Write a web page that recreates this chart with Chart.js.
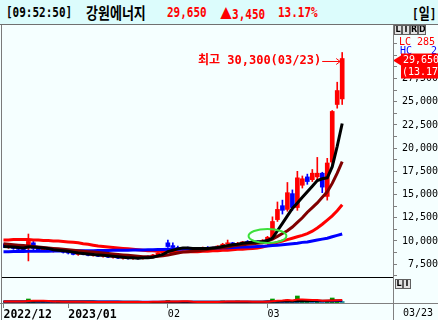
<!DOCTYPE html>
<html lang="ko"><head><meta charset="utf-8">
<script src="https://cdn.jsdelivr.net/npm/chart.js@4.4.1/dist/chart.umd.min.js"></script>
<style>
html,body{margin:0;padding:0}
body{width:438px;height:320px;overflow:hidden;background:#f5ffff;position:relative;font-family:"DejaVu Sans Mono",monospace}
#hdr{position:absolute;left:0;top:0;width:438px;height:25px;background:#dcfcfc;border-bottom:1px solid #707070;box-sizing:border-box}
.h{position:absolute;top:6px;font:bold 11px/14px "DejaVu Sans Mono","Noto Sans CJK KR",monospace;white-space:nowrap;color:#000;transform:scaleY(1.22);transform-origin:50% 50%}
.red{color:#ff0000}
.kr{font-family:"Noto Sans CJK KR",sans-serif;font-size:13px}
canvas{position:absolute;left:0}
.ln{position:absolute}
.btn{position:absolute;width:6px;height:8px;border:1px solid #606060;background:#e2e2e2;font:bold 8px/8px "DejaVu Sans",sans-serif;text-align:center;color:#000;overflow:hidden}
#lastd{position:absolute;left:403px;top:307px;font:10px/12px "DejaVu Sans Mono",monospace;color:#000}
</style></head>
<body>
<div id="hdr">
 <span class="h" id="tTime" style="left:6px"></span>
 <span class="h kr" id="tName" style="left:86px"></span>
 <span class="h red" id="tPrice" style="left:167px"></span>
 <span class="h red" id="tChg" style="left:220px"></span>
 <span class="h red" id="tPct" style="left:278px"></span>
 <span class="h" id="tPer" style="left:412px"></span>
</div>
<canvas id="pc" width="438" height="252" style="top:25px"></canvas>
<canvas id="vc" width="438" height="42" style="top:278px"></canvas>
<div class="ln" style="left:1px;top:25px;width:1px;height:295px;background:#7a7a7a"></div>
<div class="ln" style="left:2px;top:277px;width:391px;height:1px;background:#000"></div>
<div class="ln" style="left:393px;top:25px;width:1px;height:295px;background:#808080"></div>
<div class="ln" style="left:0px;top:303px;width:438px;height:1px;background:#808080"></div>
<div class="btn" style="left:394px;top:25px">L</div>
<div class="btn" style="left:402px;top:25px">I</div>
<div class="btn" style="left:410px;top:25px">R</div>
<div class="btn" style="left:418px;top:25px">D</div>
<div class="btn" style="left:395px;top:279px">L</div>
<div class="btn" style="left:403px;top:279px">I</div>
<div id="lastd"></div>
<script>
// ---------------- data ----------------
const stockName = '강원에너지';
const quoteTime = '09:52:50';
const periodLabel = '일';
const dates = ['12/13','12/14','12/15','12/16','12/19','12/20','12/21','12/22','12/23','12/26','12/27','12/28','12/29',
 '01/02','01/03','01/04','01/05','01/06','01/09','01/10','01/11','01/12','01/13','01/16','01/17','01/18','01/19','01/20','01/25','01/26','01/27','01/30','01/31',
 '02/01','02/02','02/03','02/06','02/07','02/08','02/09','02/10','02/13','02/14','02/15','02/16','02/17','02/20','02/21','02/22','02/23','02/24','02/27','02/28',
 '03/02','03/03','03/06','03/07','03/08','03/09','03/10','03/13','03/14','03/15','03/16','03/17','03/20','03/21','03/22','03/23'];
const monthLabels = ['2022/12','2023/01','02','03'];
const openP = [9500,9350,9450,9200,9100,9250,9800,9200,9000,9100,8950,9000,8900,
 8800,8700,8550,8650,8550,8450,8500,8350,8400,8250,8300,8150,8250,8100,8200,8100,8300,8250,8500,8700,
 9800,9500,9300,9150,9250,9100,9200,9150,9300,9200,9300,9450,9650,9800,9600,9750,9900,9850,9950,9900,
 10050,10400,12300,13800,13400,15100,13600,16000,16900,16600,16900,17300,14800,18500,24700,25300];
const highP = [9700,9600,9500,9350,9250,10750,9950,9300,9150,9200,9100,9100,9000,
 8950,8800,8700,8750,8650,8600,8550,8500,8450,8400,8350,8300,8300,8250,8300,8350,8400,8550,8750,9000,
 10100,9800,9450,9300,9350,9250,9300,9350,9400,9350,9500,9750,10100,9850,9850,9950,10050,10000,10050,10150,
 10500,12600,14200,14400,16300,15500,17500,17000,17200,17700,19000,17400,18900,24050,27100,30300];
const lowP = [9300,9200,9100,9000,8950,7850,9050,8950,8900,8900,8800,8850,8700,
 8600,8500,8450,8500,8400,8350,8300,8250,8200,8150,8100,8050,8050,8000,8050,8050,8150,8200,8400,8600,
 9300,9200,9100,9000,9050,9000,9050,9100,9150,9100,9200,9400,9550,9550,9550,9650,9800,9750,9800,9850,
 9950,10300,12100,12900,13200,13300,13300,15700,16100,16400,16600,15200,14400,18200,24300,24700];
const closeP = [9350,9450,9200,9100,9050,9950,9200,9000,9100,8950,9000,8900,8800,
 8700,8550,8650,8550,8450,8500,8350,8400,8250,8300,8150,8250,8100,8200,8100,8300,8250,8500,8700,8900,
 9400,9300,9150,9250,9100,9200,9150,9300,9200,9300,9450,9650,9800,9600,9750,9900,9850,9950,9900,10050,
 10400,12100,13400,13300,15200,13600,16800,16700,16400,17300,17300,15800,18400,23950,26200,29650];
const ma5 = [9400,9380,9350,9300,9250,9350,9350,9300,9250,9200,9050,9000,8950,
 8900,8800,8700,8650,8600,8550,8500,8450,8400,8350,8300,8250,8200,8200,8150,8200,8200,8250,8400,8550,
 8850,9000,9150,9250,9250,9200,9200,9200,9200,9250,9300,9400,9500,9600,9650,9750,9800,9850,9900,9950,
 10050,10300,11100,11900,12700,13500,14100,14700,15300,15900,16500,16700,16800,18000,20200,22650];
const ma10 = [9700,9650,9600,9550,9500,9450,9400,9350,9300,9250,9200,9150,9100,
 9050,9000,8950,8900,8850,8800,8750,8700,8650,8600,8550,8500,8450,8400,8350,8300,8300,8300,8350,8400,
 8500,8600,8700,8800,8850,8900,8950,9000,9100,9200,9250,9300,9350,9450,9550,9600,9650,9700,9750,9800,
 10000,10200,10500,10800,11100,11500,12000,12500,13100,13600,14100,14700,15300,16200,17300,18550];
const ma20 = [10100,10100,10150,10150,10150,10150,10100,10100,10050,10050,10000,10000,9950,
 9900,9850,9800,9700,9650,9550,9450,9400,9350,9300,9250,9200,9150,9100,9050,9000,8950,8950,8900,8900,
 8900,8850,8850,8850,8850,8850,8850,8900,8900,8950,8950,9000,9000,9050,9100,9100,9150,9200,9250,9350,
 9500,9700,9850,10000,10150,10300,10450,10600,10800,11050,11400,11800,12250,12700,13250,13900];
const ma60 = [8850,8850,8860,8870,8870,8880,8890,8890,8900,8900,8910,8920,8920,
 8930,8940,8940,8950,8950,8960,8970,8970,8980,8990,9000,9000,9010,9020,9030,9040,9050,9060,9070,9080,
 9100,9110,9120,9140,9150,9160,9170,9190,9200,9220,9240,9260,9280,9300,9320,9340,9360,9380,9400,9420,
 9450,9500,9550,9600,9650,9700,9750,9850,9900,10000,10100,10200,10300,10450,10600,10750];
const volume = [150,120,130,110,120,400,200,130,120,110,120,190,110,
 120,110,100,110,100,120,100,110,100,120,100,110,100,120,100,110,120,130,120,140,
 250,150,120,110,100,120,100,110,100,110,120,200,150,120,200,110,100,120,110,130,
 150,400,250,150,300,200,700,250,200,180,220,160,250,500,200,160];
const volMa5 = [160,160,150,140,140,200,220,230,230,200,150,150,130,
 130,125,120,115,110,110,110,108,106,108,106,106,106,108,106,108,110,115,120,125,
 150,160,160,165,165,130,110,108,106,106,110,130,140,150,160,150,140,130,130,120,
 130,180,230,250,290,260,340,340,320,300,300,230,240,260,280,300];
const volMa20 = [150,150,150,150,150,155,160,160,160,160,160,160,158,
 155,150,150,148,145,140,135,130,125,120,118,116,115,114,113,112,112,112,112,113,
 118,120,122,124,126,126,126,125,125,125,126,128,130,132,134,134,134,134,134,135,
 138,150,158,162,170,175,195,200,205,210,215,215,225,240,245,250];
const volMa60 = [140,140,140,140,140,140,140,140,140,140,140,140,140,
 139,139,139,139,139,138,138,138,138,138,138,137,137,137,137,136,136,136,136,136,
 135,135,135,135,135,135,135,135,135,135,135,135,135,135,135,135,135,135,135,136,
 138,142,146,148,152,155,162,165,168,170,173,175,178,185,188,190];
const lcText = 'LC 285', hcText = 'HC', hcVal = '2';
const circleMark = {i: 53, v: 10540, di: 3.8, dv: 760};
const yTickStep = 1250, yLabelStep = 2500, yLabelMax = 27500;
const xMin = -0.1, xMax = 78.2, yMin = 6120, yMax = 33260, volMax = 2500;

// ---------------- derived ----------------
const fmt = v => v.toLocaleString('en-US');
const n = closeP.length;
const last = closeP[n - 1], prev = closeP[n - 2];
const chg = last - prev, pct = (chg / prev * 100).toFixed(2);
const monthTickIdx = dates.map((d, i) => (i === 0 || d.slice(0, 2) !== dates[i - 1].slice(0, 2)) ? i : -1).filter(i => i >= 0);
const candleColor = closeP.map((c, i) => c >= openP[i] ? '#ff0000' : '#0000ff');
let peakIdx = 0; highP.forEach((h, i) => { if (h > highP[peakIdx]) peakIdx = i; });

document.getElementById('tTime').textContent = '[' + quoteTime + ']';
document.getElementById('tName').textContent = stockName;
document.getElementById('tPrice').textContent = fmt(last);
document.getElementById('tChg').innerHTML = '<span class="kr" style="font-size:12px;font-weight:bold">' + (chg >= 0 ? '▲' : '▼') + '</span>' + fmt(Math.abs(chg));
document.getElementById('tPct').textContent = pct + '%';
document.getElementById('tPer').innerHTML = '[<span class="kr" style="font-size:12px">' + periodLabel + '</span>]';
document.getElementById('lastd').textContent = dates[n - 1];

const MONO = '"DejaVu Sans Mono", monospace';

const priceOverlay = {
  id: 'priceOverlay',
  afterDatasetsDraw(chart) {
    const {ctx, scales: {x, y}} = chart;
    ctx.save();
    // green ellipse
    const cx = x.getPixelForValue(circleMark.i), cy = y.getPixelForValue(circleMark.v);
    const rx = Math.abs(x.getPixelForValue(circleMark.i + circleMark.di) - cx);
    const ry = Math.abs(y.getPixelForValue(circleMark.v + circleMark.dv) - cy);
    ctx.strokeStyle = '#3ce03c'; ctx.lineWidth = 2;
    ctx.beginPath(); ctx.ellipse(cx, cy, rx, ry, 0, 0, Math.PI * 2); ctx.stroke();
    // peak annotation
    const px = x.getPixelForValue(peakIdx), py = y.getPixelForValue(highP[peakIdx]);
    const ty = py + 8.5;
    ctx.fillStyle = '#ff0000'; ctx.strokeStyle = '#ff0000'; ctx.lineWidth = 1;
    ctx.font = 'bold 12px "DejaVu Sans Mono", "Noto Sans CJK KR", monospace';
    ctx.textAlign = 'right'; ctx.textBaseline = 'middle';
    ctx.fillText('최고 ' + fmt(highP[peakIdx]) + '(' + dates[peakIdx] + ')', px - 21, ty);
    ctx.beginPath(); ctx.moveTo(px - 20, ty + 0.5); ctx.lineTo(px - 2, ty + 0.5);
    ctx.moveTo(px - 6, ty - 2.5); ctx.lineTo(px - 2, ty + 0.5); ctx.lineTo(px - 6, ty + 3.5);
    ctx.stroke();
    ctx.restore();
  },
  afterDraw(chart) {
    const {ctx, chartArea, scales: {y}} = chart;
    const ax = chartArea.right;
    ctx.save();
    ctx.font = '10px ' + MONO; ctx.textBaseline = 'middle';
    ctx.fillStyle = '#ff0000'; ctx.textAlign = 'left';
    ctx.fillText(lcText, ax + 6, 17);
    ctx.fillStyle = '#0000ff';
    ctx.fillText(hcText, ax + 7, 26);
    ctx.textAlign = 'right'; ctx.fillText(hcVal, 437, 26);
    // current price tag
    const yp = y.getPixelForValue(last);
    ctx.fillStyle = '#ff0000';
    ctx.beginPath(); ctx.moveTo(ax, yp + 2); ctx.lineTo(ax + 8, yp - 3); ctx.lineTo(ax + 8, yp + 7); ctx.closePath(); ctx.fill();
    ctx.fillRect(ax + 8, yp - 5, 438 - ax - 8, 25);
    ctx.fillStyle = '#ffffff'; ctx.textAlign = 'left';
    ctx.fillText(fmt(last), ax + 10, yp + 2);
    ctx.fillText('(' + pct + '%)', ax + 9, yp + 14);
    ctx.restore();
  }
};

const pts = arr => arr.map((v, i) => ({x: i, y: v}));
const lineDs = (arr, color, order) => ({type: 'line', data: pts(arr), borderColor: color, borderWidth: 3, pointRadius: 0, tension: 0, order});

new Chart(document.getElementById('pc'), {
  type: 'bar',
  data: {
    datasets: [
      lineDs(ma5, '#000000', 0),
      lineDs(ma10, '#800000', 1),
      lineDs(ma60, '#0000ff', 2),
      lineDs(ma20, '#ff0000', 3),
      {type: 'bar', data: openP.map((o, i) => ({x: i, y: [o, closeP[i]]})), backgroundColor: candleColor, barThickness: 4, grouped: false, minBarLength: 1, borderWidth: 0, order: 4},
      {type: 'bar', data: lowP.map((l, i) => ({x: i, y: [l, highP[i]]})), backgroundColor: candleColor, barThickness: 1, grouped: false, borderWidth: 0, order: 5}
    ]
  },
  options: {
    responsive: false, animation: false, events: [],
    layout: {padding: {left: 3, right: 0, top: 0, bottom: 0}},
    plugins: {legend: {display: false}, tooltip: {enabled: false}},
    scales: {
      x: {type: 'linear', display: false, min: xMin, max: xMax, offset: false},
      y: {
        type: 'linear', position: 'right', min: yMin, max: yMax,
        afterBuildTicks: ax => { const t = []; for (let v = Math.ceil(ax.min / yTickStep) * yTickStep; v <= ax.max; v += yTickStep) t.push({value: v}); ax.ticks = t; },
        afterFit: ax => { ax.width = 45; ax.paddingTop = 0; ax.paddingBottom = 0; },
        grid: {drawOnChartArea: false, drawTicks: true, tickLength: 4, color: '#808080'},
        border: {display: false},
        ticks: {autoSkip: false, padding: 4, crossAlign: 'far', color: '#000', font: {family: MONO, size: 10},
          callback: v => (v % yLabelStep === 0 && v <= yLabelMax) ? fmt(v) : ''}
      }
    }
  },
  plugins: [priceOverlay]
});

new Chart(document.getElementById('vc'), {
  type: 'bar',
  data: {
    datasets: [
      {type: 'line', data: pts(volMa5), borderColor: '#ff0000', borderWidth: 2, pointRadius: 0, order: 0},
      {type: 'line', data: pts(volMa20), borderColor: '#000000', borderWidth: 2, pointRadius: 0, order: 1},
      {type: 'line', data: pts(volMa60), borderColor: '#0000ff', borderWidth: 2, pointRadius: 0, order: 2},
      {type: 'bar', data: pts(volume), backgroundColor: volume.map(v => v > 180 ? '#009900' : '#339999'), barThickness: 4, grouped: false, borderWidth: 0, order: 3}
    ]
  },
  options: {
    responsive: false, animation: false, events: [],
    layout: {padding: {left: 3, right: 45, top: 0, bottom: 0}},
    plugins: {legend: {display: false}, tooltip: {enabled: false}},
    scales: {
      x: {
        type: 'linear', min: xMin, max: xMax, offset: false, position: 'bottom',
        afterBuildTicks: ax => { ax.ticks = monthTickIdx.map(v => ({value: v})); },
        afterFit: ax => { ax.height = 17; ax.paddingLeft = 0; ax.paddingRight = 0; },
        grid: {drawOnChartArea: false, tickLength: 5, color: '#808080', offset: false},
        border: {display: false},
        ticks: {autoSkip: false, maxRotation: 0, minRotation: 0, align: 'start', padding: 0, color: '#000',
          font: c => c.index < 2 ? {family: MONO, size: 11.5, weight: 'bold'} : {family: MONO, size: 10},
          callback: (v, i) => monthLabels[i]}
      },
      y: {display: false, min: 0, max: volMax}
    }
  }
});
</script>
</body></html>
